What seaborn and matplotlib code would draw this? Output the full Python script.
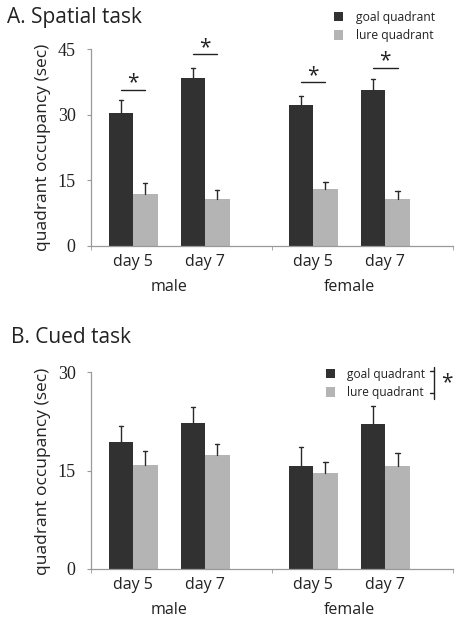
import numpy as np
import pandas as pd
import matplotlib
matplotlib.use("Agg")
import matplotlib.pyplot as plt
import seaborn as sns
from matplotlib.patches import Patch

# values
days = ["day 5", "day 7", "day 5", "day 7"]
groups = ["male", "female"]
xpos = [0, 1, 2.5, 3.5]
quadrants = ["goal quadrant", "lure quadrant"]

spatial_goal = [30.4, 38.4, 32.1, 35.6]
spatial_goal_err = [2.9, 2.3, 2.2, 2.5]
spatial_lure = [11.9, 10.8, 13.1, 10.7]
spatial_lure_err = [2.5, 1.9, 1.6, 1.9]
spatial_sig_y = [35.6, 43.8, 37.4, 40.7]

cued_goal = [19.4, 22.3, 15.7, 22.1]
cued_goal_err = [2.4, 2.4, 2.9, 2.8]
cued_lure = [15.9, 17.4, 14.6, 15.7]
cued_lure_err = [2.1, 1.6, 1.7, 2.0]

colors = ["#313131", "#b4b4b4"]
axis_gray = "#999999"
txt = "#222222"

sns.set_style("white")
plt.rcParams["font.family"] = ["Open Sans", "DejaVu Sans"]

fig = plt.figure(figsize=(4.6, 6.22), dpi=100)
axA = fig.add_axes([91/460, 1-246/622, 362/460, 197/622])
axB = fig.add_axes([91/460, 1-568.7/622, 362/460, 196.4/622])


def panel(ax, goal, goal_err, lure, lure_err, ymax, yticks):
    df = pd.DataFrame({
        "pos": xpos * 2,
        "quadrant": [quadrants[0]] * 4 + [quadrants[1]] * 4,
        "value": goal + lure,
    })
    sns.barplot(data=df, x="pos", y="value", hue="quadrant", hue_order=quadrants,
                palette=colors, native_scale=True, width=0.68, errorbar=None,
                saturation=1, legend=False, ax=ax)
    errs = goal_err + lure_err
    # one-sided error bars (upper only)
    for p, e in zip(ax.patches, errs):
        p.set_edgecolor("none")
        cx = p.get_x() + p.get_width() / 2
        top = p.get_height() + e
        ax.plot([cx, cx], [p.get_height(), top], color="#2a2a2a", lw=1, zorder=3)
        ax.plot([cx - 0.03, cx + 0.03], [top, top], color="#2a2a2a", lw=1, zorder=3)
    ax.set_xlim(-0.583, 4.44)
    ax.set_ylim(0, ymax)
    ax.set_yticks(yticks)
    ax.set_xticks(xpos)
    ax.set_xticklabels(days, fontsize=11.5)
    ax.set_xticks([-0.583, 1.93, 4.44], minor=True)
    ax.tick_params(axis="x", which="major", length=0, pad=6, colors=txt)
    ax.tick_params(axis="x", which="minor", length=3, direction="out",
                   color=axis_gray, bottom=True)
    ax.tick_params(axis="y", length=3, direction="out", color=axis_gray,
                   left=True, pad=8)
    for lab in ax.get_yticklabels():
        lab.set_family("Liberation Serif")
        lab.set_fontsize(13)
        lab.set_color(txt)
    ax.set_xlabel("")
    ax.set_ylabel("")
    sns.despine(ax=ax)
    for s in ["left", "bottom"]:
        ax.spines[s].set_color(axis_gray)
        ax.spines[s].set_linewidth(0.9)
    for gx, g in zip([0.5, 3.0], groups):
        ax.text(gx, -0.17, g, transform=ax.get_xaxis_transform(),
                ha="center", va="top", fontsize=11.5, color=txt)
    return ax


panel(axA, spatial_goal, spatial_goal_err, spatial_lure, spatial_lure_err, 45, [0, 15, 30, 45])
panel(axB, cued_goal, cued_goal_err, cued_lure, cued_lure_err, 30, [0, 15, 30])

# significance marks, panel A
for x, y in zip(xpos, spatial_sig_y):
    axA.plot([x - 0.17, x + 0.17], [y, y], color=txt, lw=1, clip_on=False)
    axA.text(x, y - 0.8, "*", ha="center", va="bottom", fontsize=15, color=txt)

handles = [Patch(facecolor=c, edgecolor="none") for c in colors]
legA = axA.legend(handles, quadrants, loc="upper left", bbox_to_anchor=(329/460, 1-6/622),
                  bbox_transform=fig.transFigure, frameon=False, fontsize=8.7,
                  handlelength=0.8, handleheight=0.8, handletextpad=1.0,
                  labelspacing=0.45, borderaxespad=0)
legB = axB.legend(handles, quadrants, loc="upper left", bbox_to_anchor=(321/460, 1-363/622),
                  bbox_transform=fig.transFigure, frameon=False, fontsize=8.6,
                  handlelength=0.8, handleheight=0.8, handletextpad=1.0,
                  labelspacing=0.45, borderaxespad=0)
for leg in (legA, legB):
    for t in leg.get_texts():
        t.set_color(txt)

# bracket next to the cued legend
bx = 434/460
def fy(p):
    return 1 - p/622
axB.plot([bx, bx], [fy(367), fy(399)], transform=fig.transFigure, color=txt, lw=1, clip_on=False)
axB.plot([bx - 4/460, bx], [fy(371), fy(371)], transform=fig.transFigure, color=txt, lw=1, clip_on=False)
axB.plot([bx - 4/460, bx], [fy(393), fy(393)], transform=fig.transFigure, color=txt, lw=1, clip_on=False)
fig.text(447/460, fy(383), "*", ha="center", va="center", fontsize=15, color=txt)

fig.text(7/460, fy(23), "A. Spatial task", fontsize=15, va="baseline", color=txt)
fig.text(11/460, fy(343), "B. Cued task", fontsize=15, va="baseline", color=txt)
fig.text(43/460, fy(147.5), "quadrant occupancy (sec)", rotation=90, ha="center",
         va="center", fontsize=12.5, color=txt)
fig.text(43/460, fy(471.5), "quadrant occupancy (sec)", rotation=90, ha="center",
         va="center", fontsize=12.5, color=txt)

fig.savefig("out.png", dpi=100)
